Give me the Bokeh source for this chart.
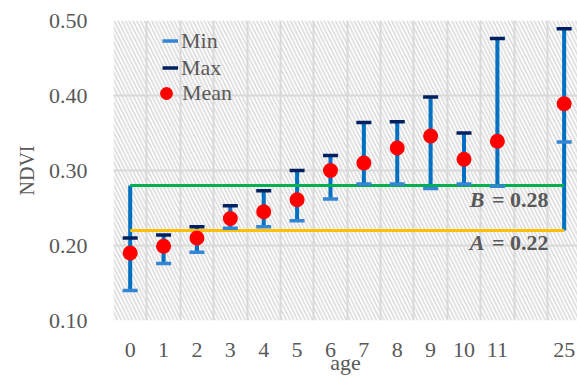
from bokeh.plotting import figure
from bokeh.models import (Range1d, FixedTicker, NumeralTickFormatter, BoxAnnotation,
                          Legend, LegendItem, Label, ColumnDataSource)
from bokeh.embed import file_html
from bokeh.resources import INLINE

# ---------------- data ----------------
ages = ["0", "1", "2", "3", "4", "5", "6", "7", "8", "9", "10", "11", "25"]
ndvi_min = [0.140, 0.176, 0.191, 0.223, 0.225, 0.233, 0.262, 0.282, 0.282, 0.276, 0.282, 0.279, 0.338]
ndvi_max = [0.210, 0.214, 0.225, 0.253, 0.273, 0.300, 0.320, 0.364, 0.365, 0.398, 0.350, 0.476, 0.489]
ndvi_mean = [0.190, 0.199, 0.210, 0.236, 0.245, 0.261, 0.300, 0.310, 0.330, 0.346, 0.315, 0.339, 0.389]
bar_low = [0.140, 0.176, 0.191, 0.223, 0.225, 0.233, 0.262, 0.282, 0.282, 0.276, 0.282, 0.279, 0.220]
bar_high = [0.280, 0.214, 0.225, 0.253, 0.273, 0.300, 0.320, 0.364, 0.365, 0.398, 0.350, 0.476, 0.489]
A_value = 0.22
B_value = 0.28
y_ticks = [0.10, 0.20, 0.30, 0.40, 0.50]

# slot positions: one empty slot before the last age
xpos = [i if i < 12 else i + 1 for i in range(len(ages))]

FONT = "Times New Roman"
TXT = "#595959"
MIN_C = "#3485D4"
MAX_C = "#002060"
NAN = float("nan")

src = ColumnDataSource(dict(x=xpos, age=ages, lo=bar_low, hi=bar_high,
                            mn=ndvi_min, mx=ndvi_max, mean=ndvi_mean))

p = figure(width=577, height=378, output_backend="svg", toolbar_location=None,
           x_range=Range1d(-0.5, 13.4), y_range=Range1d(0.10, 0.50),
           min_border_left=113, min_border_right=0, min_border_top=20, min_border_bottom=58)
p.outline_line_color = None
p.background_fill_color = "white"
p.border_fill_color = "white"

# hatched plot area
p.add_layout(BoxAnnotation(fill_color="white", fill_alpha=1.0, line_color=None,
                           hatch_pattern="\\", hatch_color="#dadada", hatch_weight=1.6,
                           hatch_scale=7.5, level="image"))

# grid
p.xgrid.ticker = FixedTicker(ticks=[k - 0.5 for k in range(15)])
p.ygrid.ticker = FixedTicker(ticks=y_ticks)
for g in (p.xgrid, p.ygrid):
    g.grid_line_color = "#d9d9d9"
    g.grid_line_width = 2

# axes
p.xaxis.ticker = FixedTicker(ticks=xpos)
p.xaxis.major_label_overrides = {x: a for x, a in zip(xpos, ages)}
p.yaxis.ticker = FixedTicker(ticks=y_ticks)
p.yaxis.formatter = NumeralTickFormatter(format="0.00")
for ax in (p.xaxis, p.yaxis):
    ax.axis_line_color = None
    ax.major_tick_line_color = None
    ax.minor_tick_line_color = None
    ax.major_tick_out = 0
    ax.major_tick_in = 0
    ax.major_label_text_font = FONT
    ax.major_label_text_font_size = "22px"
    ax.major_label_text_color = TXT
    ax.axis_label_text_font = FONT
    ax.axis_label_text_font_style = "normal"
    ax.axis_label_text_color = TXT
p.xaxis.major_label_standoff = 22
p.yaxis.major_label_standoff = 26
p.yaxis.axis_label = "NDVI"
p.yaxis.axis_label_text_font_size = "20px"
p.yaxis.axis_label_standoff = 8
p.xaxis.axis_label = "age"
p.xaxis.axis_label_text_font_size = "22px"
p.xaxis.axis_label_standoff = -10

# bars
p.segment(x0="x", y0="lo", x1="x", y1="hi", source=src, line_color="#0070C0", line_width=4)

# threshold lines
first, last = xpos[0], xpos[-1]
p.line([first, last], [B_value, B_value], line_color="#00B050", line_width=3)
p.line([first, last], [A_value, A_value], line_color="#FFC000", line_width=3)

p.scatter(x="x", y="mn", source=src, marker="dash", size=15, line_color=MIN_C, line_width=3.5)
p.scatter(x="x", y="mx", source=src, marker="dash", size=15, line_color=MAX_C, line_width=3.5)
r_mean = p.scatter(x="x", y="mean", source=src, marker="circle", size=15,
                   fill_color="#FF0000", line_color=None)

# legend-only swatches for the dash markers (a NaN point: nothing drawn in the plot)
lg_min = p.line(x=[NAN], y=[NAN], line_color=MIN_C, line_width=3.5)
lg_max = p.line(x=[NAN], y=[NAN], line_color=MAX_C, line_width=3.5)

# threshold labels
mid_right = 12.5
for val, letter, dy in ((B_value, "B", 0.018), (A_value, "A", 0.0155)):
    p.add_layout(Label(x=mid_right, y=val - dy, text="= %.2f" % val, text_align="right",
                       text_baseline="middle", x_offset=1, text_font=FONT,
                       text_font_size="22px", text_font_style="bold", text_color=TXT))
    p.add_layout(Label(x=mid_right, y=val - dy, text=letter, text_align="right",
                       text_baseline="middle", x_offset=-63, text_font=FONT,
                       text_font_size="22px", text_font_style="bold italic", text_color=TXT))

common = dict(padding=0, margin=0, background_fill_alpha=0, border_line_color=None,
              label_text_font=FONT, label_text_font_size="22px",
              label_text_color=TXT)
leg1 = Legend(items=[LegendItem(label="Min", renderers=[lg_min]),
                     LegendItem(label="Max", renderers=[lg_max])],
              location=(49, 239), glyph_width=16, glyph_height=27, spacing=0,
              label_standoff=3, **common)
leg2 = Legend(items=[LegendItem(label="Mean", renderers=[r_mean])],
              location=(37, 209), glyph_width=32, glyph_height=36, spacing=0,
              label_standoff=0, **common)
p.add_layout(leg1)
p.add_layout(leg2)

open("out.html", "w").write(file_html(p, INLINE))
